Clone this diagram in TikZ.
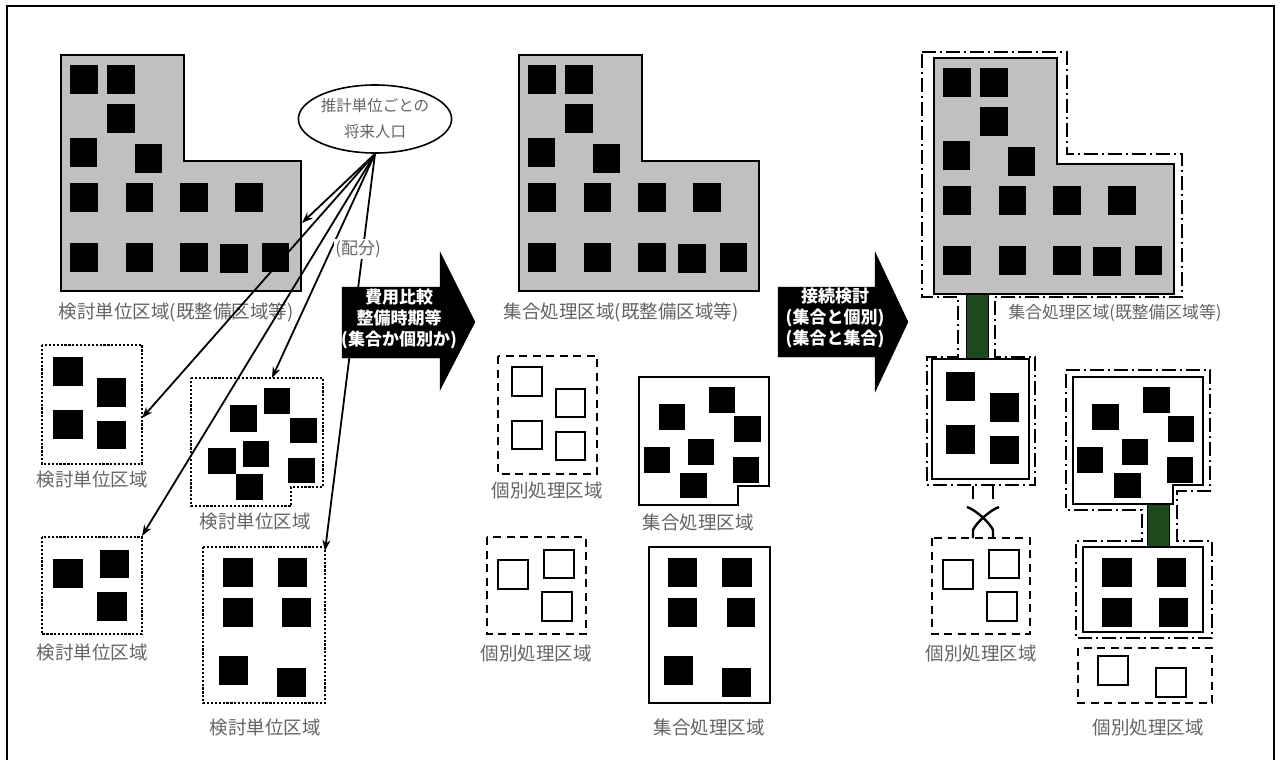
\documentclass[tikz,border=0pt]{standalone}
\usepackage{fontspec}
\setmainfont{Noto Sans CJK JP}
\usetikzlibrary{arrows.meta,shapes.geometric}
\definecolor{lgray}{RGB}{192,192,192}
\definecolor{labgray}{RGB}{100,100,100}
\definecolor{pipegreen}{RGB}{28,74,28}
\tikzset{
 lbl/.style={text=labgray, font=\fontsize{18.5}{22}\selectfont, inner sep=0pt},
 regionL/.style={fill=lgray, draw=black, line width=2pt, line join=miter},
 dotbox/.style={draw=black, line width=2.7pt, dash pattern=on 2.2pt off 1.7pt},
 dashbox/.style={draw=black, line width=2.2pt, dash pattern=on 8pt off 5.5pt},
 solidbox/.style={draw=black, line width=2.8pt, fill=white},
 ddbox/.style={draw=black, line width=1.9pt, dash pattern=on 14pt off 4pt on 2pt off 4pt},
 hollow/.style={draw=black, line width=1.8pt, fill=white},
 pipe/.style={fill=pipegreen, draw=black, line width=0.8pt},
 fan/.style={line width=1.8pt, -{Stealth[length=11pt,width=8pt]}},
 bigarrow/.style={fill=black},
 arrtext/.style={text=white, font=\bfseries\fontsize{17}{21}\selectfont, align=center, inner sep=0pt},
 frame/.style={draw=black, line width=2pt},
 brk/.style={line width=2.4pt}
}
\newcommand{\LSquares}{%
 \fill (70,65) rectangle (98,94);
 \fill (107,65) rectangle (135,94);
 \fill (107,104) rectangle (135,133);
 \fill (70,138) rectangle (97,167);
 \fill (135,144) rectangle (162,173);
 \fill (70,183) rectangle (98,212);
 \fill (126,183) rectangle (153,212);
 \fill (180,183) rectangle (208,212);
 \fill (235,183) rectangle (263,212);
 \fill (70,243) rectangle (98,272);
 \fill (126,243) rectangle (153,272);
 \fill (180,243) rectangle (208,272);
 \fill (220,244) rectangle (248,273);
 \fill (262,243) rectangle (289,272);}
\newcommand{\LShapePath}{(61,55) -- (184,55) -- (184,161) -- (301,161) -- (301,291) -- (61,291) -- cycle}
\begin{document}
\begin{tikzpicture}[x=1pt,y=-1pt]
\useasboundingbox (0,0) rectangle (1280,760);
\fill[white] (0,0) rectangle (1280,760);
\draw[frame] (7,762) -- (7,6) -- (1274,6) -- (1274,762);

% ===== Left column =====
\draw[regionL] \LShapePath;
\LSquares
\node[lbl] (labL1) at (176,312) {検討単位区域(既整備区域等)};

% box A
\draw[dotbox] (42,345) rectangle (142,464);
\fill (53,357) rectangle (83,386);
\fill (97,378) rectangle (126,407);
\fill (53,410) rectangle (83,439);
\fill (97,421) rectangle (126,449);
\node[lbl] (labA) at (92,480) {検討単位区域};

% box B
\draw[dotbox] (191,378) -- (323,378) -- (323,487) -- (291,487) -- (291,506) -- (191,506) -- cycle;
\fill (230,405) rectangle (257,432);
\fill (264,388) rectangle (290,414);
\fill (290,418) rectangle (317,443);
\fill (208,448) rectangle (236,474);
\fill (243,441) rectangle (269,467);
\fill (288,458) rectangle (315,483);
\fill (236,474) rectangle (263,500);
\node[lbl] (labB) at (255,522) {検討単位区域};

% box C
\draw[dotbox] (42,537) rectangle (142,634);
\fill (53,559) rectangle (83,588);
\fill (100,550) rectangle (129,578);
\fill (97,592) rectangle (127,621);
\node[lbl] (labC) at (92,653) {検討単位区域};

% box D
\draw[dotbox] (203,547) rectangle (325,703);
\fill (223,558) rectangle (253,587);
\fill (278,558) rectangle (307,587);
\fill (223,598) rectangle (253,627);
\fill (282,598) rectangle (311,627);
\fill (219,656) rectangle (248,685);
\fill (277,668) rectangle (306,697);
\node[lbl] (labD) at (265,727) {検討単位区域};

% ellipse and fan
\node[ellipse, draw=black, line width=1.6pt, fill=white, minimum width=124pt, minimum height=68pt, inner sep=0pt,
      text=labgray, font=\fontsize{15.5}{26}\selectfont, align=center] (pop) at (375,119) {推計単位ごとの\\将来人口};
\coordinate (t1) at (302,223);
\coordinate (t2) at (142,418);
\coordinate (t3) at (142,536);
\coordinate (t4) at (272,378);
\coordinate (t5) at (325,551);
\draw[fan] (pop.south) -- (t1);
\draw[fan] (pop.south) -- (t2);
\draw[fan] (pop.south) -- (t3);
\draw[fan] (pop.south) -- (t4);
\draw[fan] (pop.south) -- (t5);
\node[lbl, fill=white, inner sep=1.5pt, font=\fontsize{17}{20}\selectfont] (haibun) at (358,249) {(配分)};

% big arrow 1
\draw[bigarrow] (342,287) -- (440,287) -- (440,252) -- (475,322) -- (440,390) -- (440,358) -- (342,358) -- cycle;
\node[arrtext] (arr1) at (399,319) {費用比較\\整備時期等\\(集合か個別か)};

% ===== Middle column =====
\begin{scope}[shift={(458,0)}]
\draw[regionL] \LShapePath;
\LSquares
\end{scope}
\node[lbl] (labL2) at (621,312) {集合処理区域(既整備区域等)};

% box E
\draw[dashbox] (498,356) rectangle (597,474);
\draw[hollow] (512,367) rectangle (542,396);
\draw[hollow] (556,389) rectangle (585,417);
\draw[hollow] (512,421) rectangle (542,449);
\draw[hollow] (556,432) rectangle (585,460);
\node[lbl] (labE) at (547,490) {個別処理区域};

% box F
\draw[solidbox] (639,377) -- (769,377) -- (769,486) -- (738,486) -- (738,505) -- (639,505) -- cycle;
\fill (659,404) rectangle (685,430);
\fill (709,387) rectangle (735,413);
\fill (734,416) rectangle (761,442);
\fill (644,447) rectangle (670,473);
\fill (688,439) rectangle (714,465);
\fill (733,457) rectangle (759,483);
\fill (680,473) rectangle (707,498);
\node[lbl] (labF) at (698,522) {集合処理区域};

% box G
\draw[dashbox] (487,537) rectangle (586,634);
\draw[hollow] (498,560) rectangle (528,589);
\draw[hollow] (544,550) rectangle (574,578);
\draw[hollow] (542,592) rectangle (572,621);
\node[lbl] (labG) at (536,653) {個別処理区域};

% box H
\draw[solidbox] (649,547) rectangle (770,703);
\fill (668,558) rectangle (697,587);
\fill (722,558) rectangle (752,587);
\fill (668,598) rectangle (697,627);
\fill (727,598) rectangle (755,627);
\fill (664,656) rectangle (693,685);
\fill (722,668) rectangle (751,697);
\node[lbl] (labH) at (709,727) {集合処理区域};

% big arrow 2
\draw[bigarrow] (778,287) -- (875,287) -- (875,252) -- (908,322) -- (875,392) -- (875,357) -- (778,357) -- cycle;
\node[arrtext] (arr2) at (835,318) {接続検討\\(集合と個別)\\(集合と集合)};

% ===== Right column =====
\draw[ddbox] (922,52) -- (1067,52) -- (1067,154) -- (1182,154) -- (1182,297) -- (995,297) -- (995,357) -- (1035,357) -- (1035,485) -- (927,485) -- (927,357) -- (958,357) -- (958,297) -- (922,297) -- cycle;
\draw[ddbox] (1066,370) -- (1210,370) -- (1210,491) -- (1177,491) -- (1177,541) -- (1212,541) -- (1212,638) -- (1076,638) -- (1076,541) -- (1142,541) -- (1142,510) -- (1066,510) -- cycle;

\draw[pipe] (966,290) rectangle (988,361);
\draw[pipe] (1147,502) rectangle (1169,549);

\begin{scope}[shift={(873,3)}]
\draw[regionL] \LShapePath;
\LSquares
\end{scope}
\node[lbl, font=\fontsize{16.8}{20}\selectfont] (labL3) at (1115,313) {集合処理区域(既整備区域等)};

% box I
\draw[solidbox] (932,359) rectangle (1029,479);
\fill (946,372) rectangle (975,401);
\fill (990,393) rectangle (1019,422);
\fill (946,425) rectangle (975,454);
\fill (990,436) rectangle (1019,464);

% broken connection
\draw[brk] (973,486) -- (973,499);
\draw[brk] (993,486) -- (993,499);
\draw[brk] (967,507) .. controls (976,510) and (990,523) .. (993,530) -- (993,538);
\draw[brk] (999,507) .. controls (990,510) and (976,523) .. (973,530) -- (973,538);

% box K
\draw[dashbox] (932,538) rectangle (1030,634);
\draw[hollow] (943,560) rectangle (973,589);
\draw[hollow] (989,550) rectangle (1019,578);
\draw[hollow] (987,592) rectangle (1017,621);
\node[lbl] (labK) at (981,653) {個別処理区域};

% box J
\draw[solidbox] (1073,377) -- (1203,377) -- (1203,485) -- (1173,485) -- (1173,504) -- (1073,504) -- cycle;
\fill (1092,404) rectangle (1119,430);
\fill (1143,387) rectangle (1170,413);
\fill (1168,416) rectangle (1194,442);
\fill (1077,447) rectangle (1103,473);
\fill (1122,439) rectangle (1148,465);
\fill (1167,457) rectangle (1193,483);
\fill (1114,473) rectangle (1141,498);

% box L
\draw[solidbox] (1083,547) rectangle (1203,632);
\fill (1102,558) rectangle (1132,587);
\fill (1157,558) rectangle (1186,587);
\fill (1102,598) rectangle (1132,627);
\fill (1159,598) rectangle (1188,627);

% box M
\draw[dashbox] (1078,648) rectangle (1212,703);
\draw[hollow] (1098,656) rectangle (1128,685);
\draw[hollow] (1156,668) rectangle (1186,697);
\node[lbl] (labM) at (1148,727) {個別処理区域};
\end{tikzpicture}
\end{document}
